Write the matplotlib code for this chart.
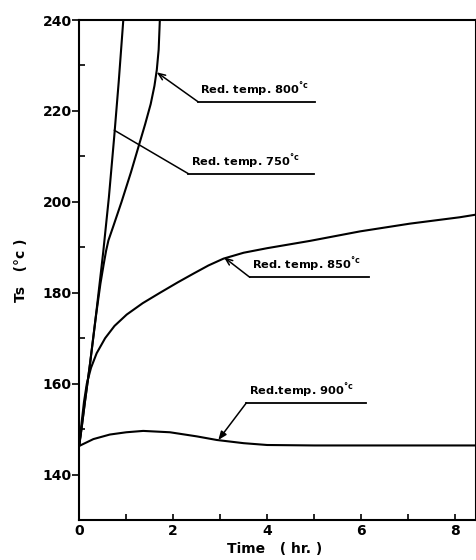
import matplotlib.pyplot as plt
from matplotlib.ticker import MultipleLocator

plt.rcParams['font.family'] = ['DejaVu Sans']
plt.rcParams['mathtext.default'] = 'regular'

# Ts vs time for each reduction temperature
t_750 = [0, 0.05, 0.12, 0.23, 0.36, 0.51, 0.63, 0.745, 0.84, 0.937]
ts_750 = [146.5, 150.3, 156, 164.5, 175.5, 189, 201, 214.5, 226.5, 240]

t_800 = [0, 0.05, 0.12, 0.23, 0.36, 0.45, 0.52, 0.57, 0.62, 0.72, 0.9, 1.1,
         1.257, 1.4, 1.52, 1.6, 1.65, 1.69, 1.715]
ts_800 = [146.5, 150.3, 156, 164.5, 175.3, 182, 186.3, 189.2, 191.5, 194.5, 200, 206.5,
          212, 217, 221.5, 225.5, 229, 233.5, 240]

t_850 = [0, 0.05, 0.1, 0.16, 0.25, 0.37, 0.55, 0.75, 1.01, 1.35, 1.72, 2.1, 2.43,
         2.75, 3.07, 3.5, 4.0, 4.91, 5.98, 7.04, 8.1, 8.46]
ts_850 = [146.5, 151.5, 156, 160, 163.5, 166.7, 170, 172.7, 175.2, 177.7, 180, 182.3, 184.2,
          186, 187.5, 188.8, 189.8, 191.4, 193.5, 195.2, 196.6, 197.2]

t_900 = [0, 0.3, 0.65, 1.0, 1.36, 1.93, 2.5, 2.93, 3.5, 4.0, 5.0, 8.46]
ts_900 = [146.3, 147.8, 148.8, 149.3, 149.6, 149.3, 148.4, 147.6, 146.9, 146.5, 146.4, 146.4]

curves = [(t_750, ts_750), (t_800, ts_800), (t_850, ts_850), (t_900, ts_900)]
names = ['Red. temp. 750$^{°c}$', 'Red. temp. 800$^{°c}$',
         'Red. temp. 850$^{°c}$', 'Red.temp. 900$^{°c}$']

# leader lines: point on curve, start of underline, end of underline
leaders = [((0.745, 215.75), (2.32, 206.2), 5.0, '-'),
           ((1.648, 228.5), (2.53, 222.0), 5.02, '->'),
           ((3.08, 187.8), (3.63, 183.4), 6.17, '->'),
           ((2.96, 147.6), (3.56, 155.8), 6.1, '-|>')]

fig = plt.figure(figsize=(4.77, 5.6), dpi=100)
ax = fig.add_axes([79.3 / 477, 40 / 560, (476.5 - 79.3) / 477, 500 / 560])

for t, ts in curves:
    ax.plot(t, ts, color='black', lw=1.5, solid_joinstyle='round')

for name, (tip, start, end, style) in zip(names, leaders):
    ax.annotate('', xy=tip, xytext=start,
                arrowprops=dict(arrowstyle=style + (',head_length=0.5,head_width=0.2' if style != '-' else ''),
                                color='black', lw=1.1, shrinkA=0, shrinkB=0))
    ax.plot([start[0], end], [start[1], start[1]], color='black', lw=1.3)
    ax.text(start[0] + 0.05, start[1] + 0.9, name, fontsize=8.2, fontweight='bold',
            ha='left', va='bottom')

ax.set_xlim(0, 8.458)
ax.set_ylim(130, 240)

ax.xaxis.set_major_locator(MultipleLocator(2))
ax.xaxis.set_minor_locator(MultipleLocator(1))
ax.yaxis.set_major_locator(MultipleLocator(20))
ax.yaxis.set_minor_locator(MultipleLocator(10))
ax.tick_params(axis='x', which='both', direction='in', length=4, width=1.2, pad=3)
ax.tick_params(axis='y', which='major', direction='out', length=5, width=1.2, pad=0.5)
ax.tick_params(axis='y', which='minor', direction='in', length=4, width=1.2)
for lab in ax.get_xticklabels() + ax.get_yticklabels():
    lab.set_fontsize(10)
    lab.set_fontweight('bold')

for sp in ax.spines.values():
    sp.set_linewidth(1.5)

ax.set_xlabel('Time   ( hr. )', fontsize=10, fontweight='bold')
ax.xaxis.set_label_coords(0.491, -0.044)
ax.set_ylabel('Ts   (°c )', fontsize=10, fontweight='bold')
ax.yaxis.set_label_coords(-0.13, 0.5)

fig.savefig('out.png', dpi=100)
